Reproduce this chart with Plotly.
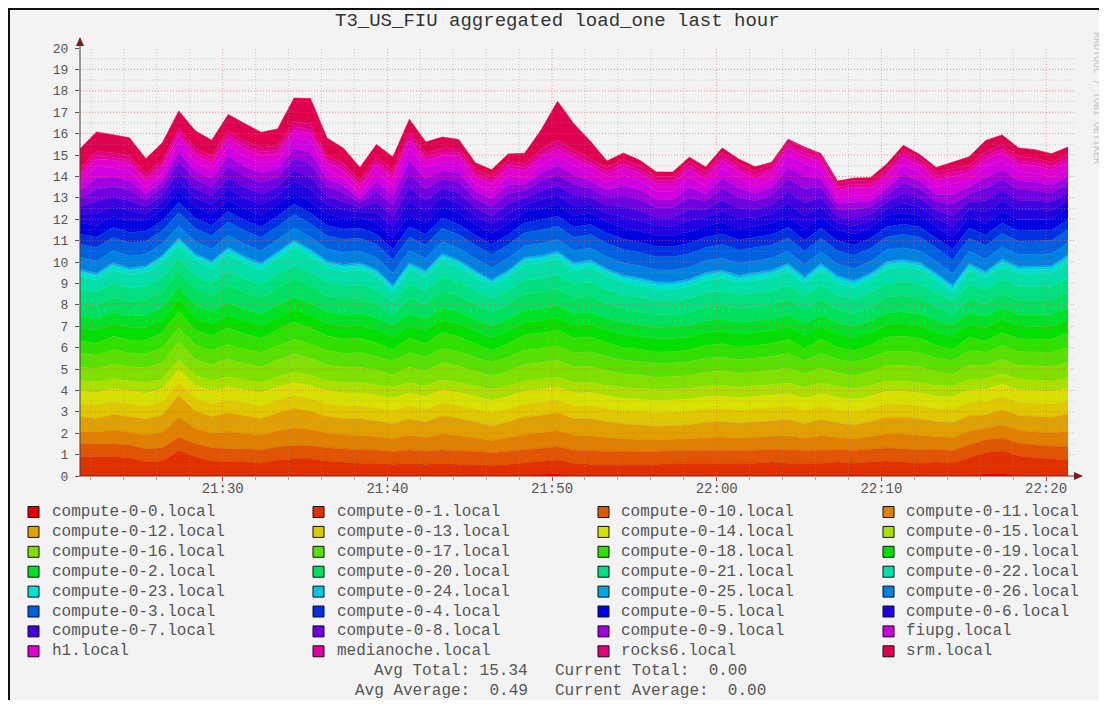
import plotly.graph_objects as go
import pandas as pd

TITLE = "T3_US_FIU aggregated load_one last hour"
times = pd.date_range("2013-05-10 21:21:20", periods=61, freq="60s")
tick_vals = ["2013-05-10 21:30", "2013-05-10 21:40", "2013-05-10 21:50",
             "2013-05-10 22:00", "2013-05-10 22:10", "2013-05-10 22:20"]
tick_text = ["21:30", "21:40", "21:50", "22:00", "22:10", "22:20"]
y_ticks = list(range(0, 21))
summary_left = ["Avg Total: 15.34", "Avg Average:  0.49"]
summary_right = ["Current Total:  0.00", "Current Average:  0.00"]

hosts = ["compute-0-0.local", "compute-0-1.local", "compute-0-10.local", "compute-0-11.local",
         "compute-0-12.local", "compute-0-13.local", "compute-0-14.local", "compute-0-15.local",
         "compute-0-16.local", "compute-0-17.local", "compute-0-18.local", "compute-0-19.local",
         "compute-0-2.local", "compute-0-20.local", "compute-0-21.local", "compute-0-22.local",
         "compute-0-23.local", "compute-0-24.local", "compute-0-25.local", "compute-0-26.local",
         "compute-0-3.local", "compute-0-4.local", "compute-0-5.local", "compute-0-6.local",
         "compute-0-7.local", "compute-0-8.local", "compute-0-9.local", "fiupg.local",
         "h1.local", "medianoche.local", "rocks6.local", "srm.local"]

colors = ["#e60000", "#e03000", "#e05500", "#e08000", "#e0a000", "#e0c800", "#d8e000", "#a8e000",
          "#80e000", "#58e000", "#30e000", "#00e000", "#00e028", "#00e060", "#00e080", "#00e0a8",
          "#00e0d0", "#00c8e0", "#00a8e0", "#0080e0", "#0060e0", "#0030e0", "#0000e0", "#2000e0",
          "#4000e0", "#7000e0", "#a000e0", "#d000e0", "#e000d0", "#e000a0", "#e00080", "#e00050"]

c0_0 = [0, 0, 0, 0, 0, 0, 0, 0, 0, 0,
        0, 0, 0, 0, 0, 0, 0, 0, 0, 0,
        0, 0, 0, 0, 0, 0, 0, 0, 0.08, 0.10,
        0, 0, 0, 0, 0, 0, 0, 0, 0, 0,
        0, 0, 0, 0, 0, 0, 0, 0, 0, 0,
        0, 0, 0, 0, 0, 0.10, 0.12, 0, 0, 0, 0]
c0_1 = [0.90, 0.90, 0.90, 0.85, 0.65, 0.70, 1.20, 0.90, 0.70, 0.65,
        0.65, 0.60, 0.75, 0.80, 0.80, 0.70, 0.65, 0.60, 0.60, 0.55,
        0.60, 0.55, 0.60, 0.55, 0.55, 0.50, 0.55, 0.60, 0.60, 0.65,
        0.60, 0.55, 0.55, 0.55, 0.55, 0.55, 0.60, 0.60, 0.60, 0.60,
        0.60, 0.60, 0.65, 0.60, 0.60, 0.60, 0.65, 0.60, 0.65, 0.70,
        0.65, 0.60, 0.65, 0.60, 0.85, 1.00, 1.05, 0.95, 0.85, 0.80, 0.75]
c0_10 = [0.60, 0.59, 0.61, 0.60, 0.61, 0.62, 0.62, 0.62, 0.62, 0.62,
         0.62, 0.62, 0.62, 0.62, 0.62, 0.62, 0.61, 0.62, 0.61, 0.59,
         0.62, 0.61, 0.62, 0.62, 0.61, 0.59, 0.61, 0.62, 0.62, 0.62,
         0.62, 0.62, 0.61, 0.60, 0.59, 0.59, 0.59, 0.59, 0.60, 0.60,
         0.60, 0.60, 0.60, 0.61, 0.59, 0.61, 0.59, 0.59, 0.60, 0.61,
         0.62, 0.62, 0.60, 0.59, 0.61, 0.59, 0.60, 0.60, 0.60, 0.60, 0.62]
c0_11 = [0.58, 0.55, 0.63, 0.60, 0.65, 0.72, 0.92, 0.70, 0.68, 0.79,
         0.72, 0.68, 0.74, 0.82, 0.75, 0.68, 0.66, 0.68, 0.63, 0.60,
         0.68, 0.63, 0.75, 0.71, 0.63, 0.57, 0.63, 0.72, 0.72, 0.74,
         0.68, 0.71, 0.64, 0.59, 0.57, 0.54, 0.53, 0.55, 0.60, 0.62,
         0.58, 0.60, 0.61, 0.67, 0.57, 0.67, 0.57, 0.54, 0.59, 0.67,
         0.69, 0.68, 0.59, 0.60, 0.63, 0.53, 0.61, 0.59, 0.61, 0.62, 0.71]
c0_12 = [0.68, 0.65, 0.73, 0.70, 0.75, 0.82, 1.02, 0.80, 0.78, 0.89,
         0.82, 0.78, 0.84, 0.92, 0.85, 0.78, 0.76, 0.78, 0.73, 0.70,
         0.78, 0.73, 0.85, 0.81, 0.73, 0.67, 0.73, 0.82, 0.82, 0.84,
         0.78, 0.81, 0.74, 0.69, 0.67, 0.64, 0.63, 0.65, 0.70, 0.72,
         0.68, 0.70, 0.71, 0.77, 0.67, 0.77, 0.67, 0.64, 0.69, 0.77,
         0.79, 0.78, 0.69, 0.70, 0.73, 0.63, 0.71, 0.69, 0.71, 0.72, 0.81]
c0_13 = [0.62, 0.63, 0.61, 0.62, 0.61, 0.60, 0.60, 0.60, 0.60, 0.60,
         0.60, 0.60, 0.60, 0.60, 0.60, 0.60, 0.61, 0.60, 0.61, 0.63,
         0.60, 0.61, 0.60, 0.60, 0.61, 0.63, 0.61, 0.60, 0.60, 0.60,
         0.60, 0.60, 0.61, 0.62, 0.63, 0.63, 0.63, 0.63, 0.62, 0.62,
         0.62, 0.62, 0.62, 0.61, 0.63, 0.61, 0.63, 0.63, 0.62, 0.61,
         0.60, 0.60, 0.62, 0.63, 0.61, 0.63, 0.62, 0.62, 0.62, 0.62, 0.60]
c0_14 = [0.58, 0.57, 0.59, 0.58, 0.59, 0.60, 0.60, 0.60, 0.60, 0.60,
         0.60, 0.60, 0.60, 0.60, 0.60, 0.60, 0.59, 0.60, 0.59, 0.57,
         0.60, 0.59, 0.60, 0.60, 0.59, 0.57, 0.59, 0.60, 0.60, 0.60,
         0.60, 0.60, 0.59, 0.58, 0.57, 0.57, 0.57, 0.57, 0.58, 0.58,
         0.58, 0.58, 0.58, 0.59, 0.57, 0.59, 0.57, 0.57, 0.58, 0.59,
         0.60, 0.60, 0.58, 0.57, 0.59, 0.57, 0.58, 0.58, 0.58, 0.58, 0.60]
c0_15 = [0.50, 0.51, 0.49, 0.50, 0.49, 0.48, 0.48, 0.48, 0.48, 0.48,
         0.48, 0.48, 0.48, 0.48, 0.48, 0.48, 0.49, 0.48, 0.49, 0.51,
         0.48, 0.49, 0.48, 0.48, 0.49, 0.51, 0.49, 0.48, 0.48, 0.48,
         0.48, 0.48, 0.49, 0.50, 0.51, 0.51, 0.51, 0.51, 0.50, 0.50,
         0.50, 0.50, 0.50, 0.49, 0.51, 0.49, 0.51, 0.51, 0.50, 0.49,
         0.48, 0.48, 0.50, 0.51, 0.49, 0.51, 0.50, 0.50, 0.50, 0.50, 0.48]
c0_16 = [0.63, 0.60, 0.68, 0.65, 0.70, 0.77, 0.82, 0.75, 0.73, 0.84,
         0.77, 0.73, 0.79, 0.87, 0.80, 0.73, 0.71, 0.73, 0.68, 0.57,
         0.73, 0.68, 0.80, 0.76, 0.68, 0.62, 0.68, 0.77, 0.77, 0.79,
         0.73, 0.76, 0.69, 0.64, 0.62, 0.59, 0.58, 0.60, 0.65, 0.67,
         0.63, 0.65, 0.66, 0.72, 0.62, 0.72, 0.62, 0.59, 0.64, 0.72,
         0.74, 0.73, 0.64, 0.56, 0.68, 0.58, 0.66, 0.64, 0.66, 0.67, 0.76]
c0_17 = [0.65, 0.64, 0.66, 0.65, 0.66, 0.67, 0.67, 0.67, 0.67, 0.67,
         0.67, 0.67, 0.67, 0.67, 0.67, 0.67, 0.66, 0.67, 0.66, 0.64,
         0.67, 0.66, 0.67, 0.67, 0.66, 0.64, 0.66, 0.67, 0.67, 0.67,
         0.67, 0.67, 0.66, 0.65, 0.64, 0.64, 0.64, 0.64, 0.65, 0.65,
         0.65, 0.65, 0.65, 0.66, 0.64, 0.66, 0.64, 0.64, 0.65, 0.66,
         0.67, 0.67, 0.65, 0.64, 0.66, 0.64, 0.65, 0.65, 0.65, 0.65, 0.67]
c0_18 = [0.58, 0.55, 0.63, 0.60, 0.65, 0.72, 0.77, 0.70, 0.68, 0.79,
         0.72, 0.68, 0.74, 0.82, 0.75, 0.68, 0.66, 0.68, 0.63, 0.52,
         0.68, 0.63, 0.75, 0.71, 0.63, 0.57, 0.63, 0.72, 0.72, 0.74,
         0.68, 0.71, 0.64, 0.59, 0.57, 0.54, 0.53, 0.55, 0.60, 0.62,
         0.58, 0.60, 0.61, 0.67, 0.57, 0.67, 0.57, 0.54, 0.59, 0.67,
         0.69, 0.68, 0.59, 0.51, 0.63, 0.53, 0.61, 0.59, 0.61, 0.62, 0.71]
c0_19 = [0.60, 0.61, 0.59, 0.60, 0.59, 0.58, 0.58, 0.58, 0.58, 0.58,
         0.58, 0.58, 0.58, 0.58, 0.58, 0.58, 0.59, 0.58, 0.59, 0.61,
         0.58, 0.59, 0.58, 0.58, 0.59, 0.61, 0.59, 0.58, 0.58, 0.58,
         0.58, 0.58, 0.59, 0.60, 0.61, 0.61, 0.61, 0.61, 0.60, 0.60,
         0.60, 0.60, 0.60, 0.59, 0.61, 0.59, 0.61, 0.61, 0.60, 0.59,
         0.58, 0.58, 0.60, 0.61, 0.59, 0.61, 0.60, 0.60, 0.60, 0.60, 0.58]
c0_2 = [0.55, 0.54, 0.56, 0.55, 0.56, 0.57, 0.57, 0.57, 0.57, 0.57,
        0.57, 0.57, 0.57, 0.57, 0.57, 0.57, 0.56, 0.57, 0.56, 0.54,
        0.57, 0.56, 0.57, 0.57, 0.56, 0.54, 0.56, 0.57, 0.57, 0.57,
        0.57, 0.57, 0.56, 0.55, 0.54, 0.54, 0.54, 0.54, 0.55, 0.55,
        0.55, 0.55, 0.55, 0.56, 0.54, 0.56, 0.54, 0.54, 0.55, 0.56,
        0.57, 0.57, 0.55, 0.54, 0.56, 0.54, 0.55, 0.55, 0.55, 0.55, 0.57]
c0_20 = [0.63, 0.60, 0.68, 0.65, 0.70, 0.77, 0.67, 0.75, 0.73, 0.84,
         0.77, 0.73, 0.79, 0.87, 0.80, 0.73, 0.71, 0.73, 0.68, 0.49,
         0.73, 0.68, 0.80, 0.76, 0.68, 0.62, 0.68, 0.77, 0.77, 0.79,
         0.73, 0.76, 0.69, 0.64, 0.62, 0.59, 0.58, 0.60, 0.65, 0.67,
         0.63, 0.65, 0.66, 0.72, 0.62, 0.72, 0.62, 0.59, 0.64, 0.72,
         0.74, 0.73, 0.64, 0.47, 0.68, 0.58, 0.66, 0.64, 0.66, 0.67, 0.76]
c0_21 = [0.65, 0.66, 0.64, 0.65, 0.64, 0.63, 0.63, 0.63, 0.63, 0.63,
         0.63, 0.63, 0.63, 0.63, 0.63, 0.63, 0.64, 0.63, 0.64, 0.66,
         0.63, 0.64, 0.63, 0.63, 0.64, 0.66, 0.64, 0.63, 0.63, 0.63,
         0.63, 0.63, 0.64, 0.65, 0.66, 0.66, 0.66, 0.66, 0.65, 0.65,
         0.65, 0.65, 0.65, 0.64, 0.66, 0.64, 0.66, 0.66, 0.65, 0.64,
         0.63, 0.63, 0.65, 0.66, 0.64, 0.66, 0.65, 0.65, 0.65, 0.65, 0.63]
c0_22 = [0.58, 0.55, 0.63, 0.60, 0.65, 0.72, 0.62, 0.70, 0.68, 0.79,
         0.72, 0.68, 0.74, 0.82, 0.75, 0.68, 0.66, 0.68, 0.63, 0.44,
         0.68, 0.63, 0.75, 0.71, 0.63, 0.57, 0.63, 0.72, 0.72, 0.74,
         0.68, 0.71, 0.64, 0.59, 0.57, 0.54, 0.53, 0.55, 0.60, 0.62,
         0.58, 0.60, 0.61, 0.67, 0.57, 0.67, 0.57, 0.54, 0.59, 0.67,
         0.69, 0.68, 0.59, 0.42, 0.63, 0.53, 0.61, 0.59, 0.61, 0.62, 0.71]
c0_23 = [0.20, 0.20, 0.20, 0.20, 0.20, 0.21, 0.22, 0.21, 0.20, 0.21,
         0.21, 0.20, 0.21, 0.22, 0.21, 0.20, 0.20, 0.20, 0.19, 0.15,
         0.20, 0.19, 0.21, 0.20, 0.19, 0.17, 0.19, 0.21, 0.21, 0.21,
         0.20, 0.20, 0.20, 0.19, 0.19, 0.18, 0.18, 0.19, 0.20, 0.20,
         0.19, 0.20, 0.20, 0.20, 0.19, 0.20, 0.19, 0.18, 0.19, 0.20,
         0.21, 0.20, 0.19, 0.15, 0.20, 0.19, 0.20, 0.20, 0.20, 0.20, 0.21]
c0_24 = [0.05, 0.05, 0.06, 0.05, 0.05, 0.06, 0.06, 0.06, 0.05, 0.06,
         0.06, 0.05, 0.06, 0.06, 0.06, 0.05, 0.05, 0.06, 0.06, 0.06,
         0.06, 0.06, 0.07, 0.06, 0.06, 0.06, 0.07, 0.07, 0.07, 0.07,
         0.07, 0.07, 0.07, 0.08, 0.08, 0.08, 0.08, 0.08, 0.08, 0.08,
         0.08, 0.09, 0.09, 0.09, 0.08, 0.09, 0.09, 0.09, 0.08, 0.09,
         0.09, 0.08, 0.08, 0.08, 0.08, 0.08, 0.08, 0.08, 0.08, 0.08, 0.09]
c0_25 = [0.08, 0.08, 0.08, 0.08, 0.07, 0.07, 0.08, 0.08, 0.08, 0.08,
         0.08, 0.08, 0.08, 0.08, 0.08, 0.08, 0.08, 0.07, 0.08, 0.08,
         0.08, 0.08, 0.08, 0.08, 0.08, 0.08, 0.08, 0.07, 0.08, 0.08,
         0.08, 0.08, 0.08, 0.08, 0.08, 0.08, 0.08, 0.08, 0.08, 0.08,
         0.08, 0.08, 0.08, 0.08, 0.08, 0.08, 0.07, 0.08, 0.07, 0.07,
         0.08, 0.08, 0.08, 0.08, 0.08, 0.08, 0.08, 0.08, 0.08, 0.08, 0.08]
c0_26 = [0.55, 0.56, 0.55, 0.55, 0.54, 0.54, 0.55, 0.55, 0.55, 0.56,
         0.56, 0.56, 0.55, 0.56, 0.56, 0.55, 0.55, 0.54, 0.55, 0.56,
         0.56, 0.56, 0.55, 0.55, 0.55, 0.55, 0.55, 0.54, 0.55, 0.55,
         0.55, 0.55, 0.55, 0.56, 0.55, 0.55, 0.55, 0.56, 0.55, 0.56,
         0.55, 0.55, 0.55, 0.56, 0.56, 0.55, 0.54, 0.55, 0.54, 0.54,
         0.55, 0.55, 0.55, 0.56, 0.55, 0.56, 0.56, 0.55, 0.55, 0.55, 0.55]
c0_3 = [0.62, 0.63, 0.62, 0.62, 0.61, 0.61, 0.62, 0.62, 0.62, 0.63,
        0.63, 0.63, 0.62, 0.63, 0.63, 0.62, 0.62, 0.61, 0.62, 0.63,
        0.63, 0.63, 0.62, 0.62, 0.62, 0.62, 0.62, 0.61, 0.62, 0.62,
        0.62, 0.62, 0.62, 0.63, 0.62, 0.62, 0.62, 0.63, 0.62, 0.63,
        0.62, 0.62, 0.62, 0.63, 0.63, 0.62, 0.61, 0.62, 0.61, 0.61,
        0.62, 0.62, 0.62, 0.63, 0.62, 0.63, 0.63, 0.62, 0.62, 0.62, 0.62]
c0_4 = [0.48, 0.49, 0.48, 0.48, 0.47, 0.47, 0.48, 0.48, 0.48, 0.49,
        0.49, 0.49, 0.48, 0.49, 0.49, 0.48, 0.48, 0.47, 0.48, 0.49,
        0.49, 0.49, 0.48, 0.48, 0.48, 0.48, 0.48, 0.47, 0.48, 0.48,
        0.48, 0.48, 0.48, 0.49, 0.48, 0.48, 0.48, 0.49, 0.48, 0.49,
        0.48, 0.48, 0.48, 0.49, 0.49, 0.48, 0.47, 0.48, 0.47, 0.47,
        0.48, 0.48, 0.48, 0.49, 0.48, 0.49, 0.49, 0.48, 0.48, 0.48, 0.48]
c0_5 = [0.52, 0.53, 0.52, 0.52, 0.51, 0.51, 0.52, 0.52, 0.52, 0.53,
        0.53, 0.53, 0.52, 0.53, 0.53, 0.52, 0.52, 0.51, 0.52, 0.53,
        0.53, 0.53, 0.52, 0.52, 0.52, 0.52, 0.52, 0.51, 0.52, 0.52,
        0.52, 0.52, 0.52, 0.53, 0.52, 0.52, 0.52, 0.53, 0.52, 0.53,
        0.52, 0.52, 0.52, 0.53, 0.53, 0.52, 0.51, 0.52, 0.51, 0.51,
        0.52, 0.52, 0.52, 0.53, 0.52, 0.53, 0.53, 0.52, 0.52, 0.52, 0.52]
c0_6 = [0.39, 0.57, 0.47, 0.49, 0.32, 0.35, 0.47, 0.43, 0.43, 0.52,
        0.51, 0.51, 0.43, 0.53, 0.59, 0.43, 0.39, 0.23, 0.49, 0.51,
        0.65, 0.53, 0.43, 0.49, 0.39, 0.41, 0.47, 0.33, 0.43, 0.47,
        0.49, 0.39, 0.39, 0.51, 0.49, 0.43, 0.43, 0.53, 0.39, 0.53,
        0.49, 0.39, 0.43, 0.58, 0.63, 0.46, 0.32, 0.38, 0.32, 0.33,
        0.47, 0.42, 0.39, 0.52, 0.36, 0.55, 0.50, 0.47, 0.45, 0.41, 0.38]
c0_7 = [0.37, 0.55, 0.45, 0.47, 0.30, 0.33, 0.45, 0.41, 0.41, 0.50,
        0.49, 0.49, 0.41, 0.51, 0.57, 0.41, 0.37, 0.21, 0.47, 0.49,
        0.63, 0.51, 0.41, 0.47, 0.37, 0.39, 0.45, 0.31, 0.41, 0.45,
        0.47, 0.37, 0.37, 0.49, 0.47, 0.41, 0.41, 0.51, 0.37, 0.51,
        0.47, 0.37, 0.41, 0.56, 0.61, 0.44, 0.30, 0.36, 0.30, 0.31,
        0.45, 0.40, 0.37, 0.50, 0.34, 0.53, 0.48, 0.45, 0.43, 0.39, 0.36]
c0_8 = [0.41, 0.59, 0.49, 0.51, 0.34, 0.37, 0.49, 0.45, 0.45, 0.54,
        0.53, 0.53, 0.45, 0.55, 0.61, 0.45, 0.41, 0.25, 0.51, 0.53,
        0.67, 0.55, 0.45, 0.51, 0.41, 0.43, 0.49, 0.35, 0.45, 0.49,
        0.51, 0.41, 0.41, 0.53, 0.51, 0.45, 0.45, 0.55, 0.41, 0.55,
        0.51, 0.41, 0.45, 0.60, 0.65, 0.48, 0.34, 0.40, 0.34, 0.35,
        0.49, 0.44, 0.41, 0.54, 0.38, 0.57, 0.52, 0.49, 0.47, 0.43, 0.40]
c0_9 = [0.34, 0.52, 0.42, 0.44, 0.27, 0.30, 0.42, 0.38, 0.38, 0.47,
        0.46, 0.46, 0.38, 0.48, 0.54, 0.38, 0.34, 0.18, 0.44, 0.46,
        0.60, 0.48, 0.38, 0.44, 0.34, 0.36, 0.42, 0.28, 0.38, 0.42,
        0.44, 0.34, 0.34, 0.46, 0.44, 0.38, 0.38, 0.48, 0.34, 0.48,
        0.44, 0.34, 0.38, 0.53, 0.58, 0.41, 0.27, 0.33, 0.27, 0.28,
        0.42, 0.37, 0.34, 0.47, 0.31, 0.50, 0.45, 0.42, 0.40, 0.36, 0.33]
fiupg = [0.35, 0.53, 0.43, 0.45, 0.28, 0.31, 0.43, 0.39, 0.39, 0.48,
         0.47, 0.47, 0.39, 0.49, 0.55, 0.39, 0.35, 0.19, 0.45, 0.47,
         0.61, 0.49, 0.39, 0.45, 0.35, 0.37, 0.43, 0.29, 0.39, 0.43,
         0.45, 0.35, 0.35, 0.47, 0.45, 0.39, 0.39, 0.49, 0.35, 0.49,
         0.45, 0.35, 0.39, 0.54, 0.59, 0.42, 0.28, 0.34, 0.28, 0.29,
         0.43, 0.38, 0.35, 0.48, 0.32, 0.51, 0.46, 0.43, 0.41, 0.37, 0.34]
h1 = [0.35, 0.36, 0.35, 0.35, 0.34, 0.34, 0.35, 0.35, 0.35, 0.36,
      0.36, 0.36, 0.35, 0.36, 0.36, 0.35, 0.35, 0.34, 0.35, 0.36,
      0.36, 0.36, 0.35, 0.35, 0.35, 0.35, 0.35, 0.34, 0.35, 0.35,
      0.35, 0.35, 0.35, 0.36, 0.35, 0.35, 0.35, 0.36, 0.35, 0.36,
      0.35, 0.35, 0.35, 0.36, 0.36, 0.35, 0.34, 0.35, 0.34, 0.34,
      0.35, 0.35, 0.35, 0.36, 0.35, 0.36, 0.36, 0.35, 0.35, 0.35, 0.35]
medianoche = [0.15, 0.16, 0.15, 0.15, 0.14, 0.14, 0.15, 0.15, 0.15, 0.16,
              0.16, 0.16, 0.15, 0.16, 0.16, 0.15, 0.15, 0.14, 0.15, 0.16,
              0.16, 0.16, 0.15, 0.15, 0.15, 0.15, 0.15, 0.14, 0.15, 0.15,
              0.15, 0.15, 0.15, 0.16, 0.15, 0.15, 0.15, 0.16, 0.15, 0.16,
              0.15, 0.15, 0.15, 0.16, 0.16, 0.15, 0.14, 0.15, 0.14, 0.14,
              0.15, 0.15, 0.15, 0.16, 0.15, 0.16, 0.16, 0.15, 0.15, 0.15, 0.15]
rocks6 = [0.20, 0.21, 0.20, 0.20, 0.19, 0.19, 0.20, 0.20, 0.20, 0.21,
          0.21, 0.21, 0.20, 0.24, 0.25, 0.20, 0.20, 0.19, 0.20, 0.21,
          0.21, 0.21, 0.20, 0.20, 0.20, 0.20, 0.20, 0.19, 0.23, 0.28,
          0.24, 0.20, 0.20, 0.21, 0.20, 0.20, 0.20, 0.21, 0.20, 0.21,
          0.20, 0.20, 0.20, 0.21, 0.21, 0.20, 0.19, 0.20, 0.19, 0.19,
          0.20, 0.20, 0.20, 0.21, 0.20, 0.21, 0.21, 0.20, 0.20, 0.20, 0.20]
srm = [0.90, 0.90, 0.85, 0.85, 0.70, 0.80, 0.80, 0.80, 0.70, 0.75,
       0.80, 0.70, 0.80, 1.10, 1.20, 0.80, 0.70, 0.60, 0.60, 0.60,
       0.60, 0.50, 0.50, 0.40, 0.30, 0.30, 0.30, 0.50, 0.90, 1.80,
       1.20, 0.80, 0.30, 0.30, 0.25, 0.20, 0.20, 0.20, 0.20, 0.20,
       0.20, 0.20, 0.10, 0.05, 0.05, 0.05, 0.10, 0.10, 0.15, 0.20,
       0.20, 0.15, 0.20, 0.30, 0.40, 0.50, 0.45, 0.40, 0.40, 0.40, 0.35]

series = [c0_0, c0_1, c0_10, c0_11, c0_12, c0_13, c0_14, c0_15, c0_16, c0_17, c0_18, c0_19,
          c0_2, c0_20, c0_21, c0_22, c0_23, c0_24, c0_25, c0_26, c0_3, c0_4, c0_5, c0_6,
          c0_7, c0_8, c0_9, fiupg, h1, medianoche, rocks6, srm]

# ---------------- layout geometry ----------------
# The page body has an 8px margin, so the figure is 16px smaller than the window and
# all reference positions (page pixels) are shifted by 8px.
OFF = 8
W, H = 1107 - OFF, 708 - 2 * OFF
ML, MR, MT, MB = 80 - OFF, 39, 48 - OFF, 708 - 2 * OFF - (476 - OFF)
PW, PH = W - ML - MR, H - MT - MB
FONT = "Liberation Mono, DejaVu Sans Mono, monospace"


def px(x):  # reference page x -> paper
    return (x - OFF - ML) / PW


def py(y):  # reference page y -> paper
    return (H - MB - (y - OFF)) / PH


fig = go.Figure()
for name, vals, col in zip(hosts, series, colors):
    fig.add_trace(go.Scatter(x=times, y=vals, name=name, mode="lines", stackgroup="one",
                             line=dict(width=0.6, color=col), fillcolor=col,
                             showlegend=False, hoverinfo="skip"))

shapes = []
# image frame
shapes.append(dict(type="rect", xref="paper", yref="paper", x0=px(9), x1=px(1200),
                   y0=py(9), y1=py(800), fillcolor="#f3f3f3",
                   line=dict(color="#111111", width=2), layer="below"))
# grid (drawn over the areas like rrdtool)
for k in range(1, 40):
    v = k / 2
    major = (k % 2 == 0)
    shapes.append(dict(type="line", xref="paper", yref="y", x0=0, x1=1.007, y0=v, y1=v,
                       line=dict(color="rgba(255,80,80,0.65)" if major else "rgba(150,150,150,0.45)",
                                 width=1, dash="1px,2px"), layer="above"))
grid_times = pd.date_range("2013-05-10 21:22", "2013-05-10 22:20", freq="2min")
for t in grid_times:
    major = (t.minute % 10 == 0)
    shapes.append(dict(type="line", xref="x", yref="paper", x0=t, x1=t, y0=0, y1=1,
                       line=dict(color="rgba(255,80,80,0.55)" if major else "rgba(150,150,150,0.45)",
                                 width=1, dash="1px,2px"), layer="above"))
# axes with arrows
shapes.append(dict(type="line", xref="paper", yref="paper", x0=px(80), x1=px(80),
                   y0=py(476), y1=py(42), line=dict(color="#404040", width=1), layer="above"))
shapes.append(dict(type="line", xref="paper", yref="paper", x0=px(79), x1=px(1077),
                   y0=py(476), y1=py(476), line=dict(color="#7a2a2a", width=1.2), layer="above"))
shapes.append(dict(type="path", xref="paper", yref="paper",
                   path=f"M {px(80)},{py(37)} L {px(76)},{py(46)} L {px(84)},{py(46)} Z",
                   fillcolor="#7d1c1c", line=dict(width=0), layer="above"))
shapes.append(dict(type="path", xref="paper", yref="paper",
                   path=f"M {px(1083)},{py(476)} L {px(1074)},{py(472)} L {px(1074)},{py(480)} Z",
                   fillcolor="#7d1c1c", line=dict(width=0), layer="above"))

annotations = []
annotations.append(dict(text=TITLE, xref="paper", yref="paper", x=px(557), y=py(21),
                        xanchor="center", yanchor="middle", showarrow=False,
                        font=dict(family=FONT, size=19, color="#333333")))
annotations.append(dict(text="RRDTOOL / TOBI OETIKER", xref="paper", yref="paper",
                        x=px(1096), y=py(98), textangle=90, xanchor="center", yanchor="middle",
                        showarrow=False, font=dict(family=FONT, size=10, color="#c4c4c4")))

# legend (4 columns, row-major like the rrdtool graph)
col_swatch = [28, 313, 598, 883]
col_text = [50, 335, 619, 904]
for k, (name, col) in enumerate(zip(hosts, colors)):
    r, c = divmod(k, 4)
    yc = 512 + 19.9 * r
    shapes.append(dict(type="rect", xref="paper", yref="paper",
                       x0=px(col_swatch[c]), x1=px(col_swatch[c] + 11),
                       y0=py(yc - 5.5), y1=py(yc + 5.5), fillcolor=col,
                       line=dict(color="#111111", width=1), layer="above"))
    annotations.append(dict(text=name, xref="paper", yref="paper", x=px(col_text[c]), y=py(yc),
                            xanchor="left", yanchor="middle", showarrow=False,
                            font=dict(family=FONT, size=16, color="#555555")))

for j, (lt, rt) in enumerate(zip(summary_left, summary_right)):
    yc = 671 + 20 * j
    annotations.append(dict(text=lt.replace("  ", " \u00a0"), xref="paper", yref="paper",
                            x=px(530), y=py(yc), xanchor="right", yanchor="middle",
                            showarrow=False, font=dict(family=FONT, size=16, color="#555555")))
    annotations.append(dict(text=rt.replace("  ", " \u00a0"), xref="paper", yref="paper",
                            x=px(553), y=py(yc), xanchor="left", yanchor="middle",
                            showarrow=False, font=dict(family=FONT, size=16, color="#555555")))

fig.update_layout(
    width=W, height=H,
    margin=dict(l=ML, r=MR, t=MT, b=MB, pad=0),
    paper_bgcolor="#ffffff", plot_bgcolor="#ffffff",
    showlegend=False,
    shapes=shapes, annotations=annotations,
    xaxis=dict(type="date", range=[times[0], times[-1]], tickvals=tick_vals, ticktext=tick_text,
               showgrid=False, zeroline=False, showline=False,
               ticks="outside", ticklen=4, tickcolor="#c04040",
               minor=dict(dtick=120000, tick0="2013-05-10 21:30", ticks="outside", ticklen=3,
                          tickcolor="#aaaaaa", showgrid=False),
               tickfont=dict(family=FONT, size=14, color="#555555"), ticklabelstandoff=-5),
    yaxis=dict(range=[0, 20], tickvals=y_ticks, showgrid=False, zeroline=False, showline=False,
               ticks="outside", ticklen=4, tickcolor="#555555",
               tickfont=dict(family=FONT, size=13, color="#555555"), ticklabelstandoff=4),
)

fig.write_html("out.html")
